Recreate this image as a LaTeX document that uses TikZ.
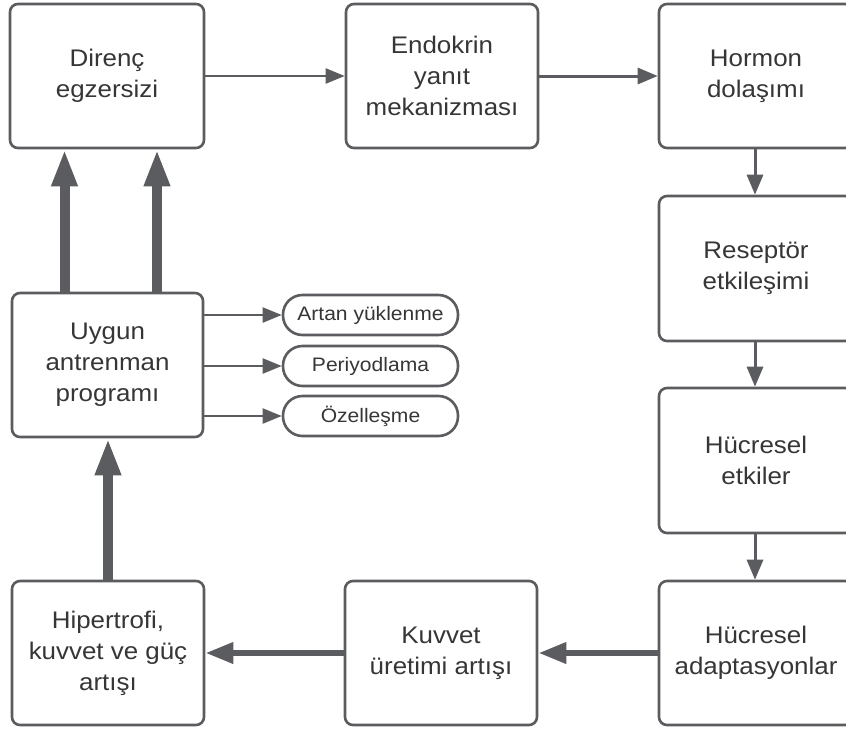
\documentclass[tikz,border=0pt]{standalone}
\usepackage{fontspec}
\setmainfont{Liberation Sans}[FakeStretch=1.08]
\usetikzlibrary{arrows.meta}
\definecolor{lc}{HTML}{5B5C60}
\definecolor{tc}{HTML}{363636}
\tikzset{
  box/.style={draw=lc, line width=2.6pt, rounded corners=8pt, fill=white,
    minimum width=194pt, minimum height=144pt, inner sep=0pt, align=center,
    text=tc, font=\fontsize{24}{31}\selectfont},
  pill/.style={draw=lc, line width=2.6pt, rounded corners=19.5pt, fill=white,
    minimum width=175pt, minimum height=40pt, inner sep=0pt, align=center,
    text=tc, font=\fontsize{19.5}{23}\selectfont},
  thin/.style={draw=lc, line width=2.2pt, -{Triangle[length=19pt,width=15pt]}, color=lc},
  mid/.style={draw=lc, line width=3pt, -{Triangle[length=20pt,width=16pt]}, color=lc},
  fat/.style={draw=lc, line width=10pt, -{Triangle[length=37pt,width=24pt]}, color=lc},
  wide/.style={draw=lc, line width=6.5pt, -{Triangle[length=28pt,width=20pt]}, color=lc},
}
\begin{document}
\begin{tikzpicture}[x=1pt,y=-1pt]
\useasboundingbox[fill=white] (0,0) rectangle (846,729);
% top row
\node[box] (dir) at (107,76) {Direnç\\egzersizi};
\node[box, minimum width=192pt] (endo) at (442,76) {Endokrin\\yanıt\\mekanizması};
\node[box] (horm) at (756,76) {Hormon\\dolaşımı};
% right column
\node[box, minimum height=145pt] (res) at (756,268.5) {Reseptör\\etkileşimi};
\node[box, minimum height=145pt] (hetk) at (756,460.5) {Hücresel\\etkiler};
\node[box] (hadap) at (756,653) {Hücresel\\adaptasyonlar};
% bottom row
\node[box, minimum width=192pt] (kuv) at (441,653) {Kuvvet\\üretimi artışı};
\node[box, minimum width=192pt] (hip) at (108,653) {Hipertrofi,\\kuvvet ve güç\\artışı};
% middle left
\node[box, minimum width=191pt] (uyg) at (107.5,365) {Uygun\\antrenman\\programı};
\node[pill] (p1) at (370.5,315) {Artan yüklenme};
\node[pill] (p2) at (370.5,366) {Periyodlama};
\node[pill] (p3) at (370.5,416) {Özelleşme};
% connectors
\draw[thin] (dir.east) -- (endo.west);
\draw[mid] (endo.east) -- (horm.west);
\draw[mid] ([xshift=-1pt]horm.south) -- ([xshift=-1pt]res.north);
\draw[mid] ([xshift=-1pt]res.south) -- ([xshift=-1pt]hetk.north);
\draw[mid] ([xshift=-1pt]hetk.south) -- ([xshift=-1pt]hadap.north);
\draw[wide] (hadap.west) -- (kuv.east);
\draw[wide] (kuv.west) -- (hip.east);
\draw[fat] (hip.north) -- (hip.north |- uyg.south);
\draw[fat] ([xshift=-43pt]uyg.north) -- ([xshift=-43pt]uyg.north |- dir.south);
\draw[fat] ([xshift=49.5pt]uyg.north) -- ([xshift=49.5pt]uyg.north |- dir.south);
\draw[thin] (uyg.east |- p1.west) -- (p1.west);
\draw[thin] (uyg.east |- p2.west) -- (p2.west);
\draw[thin] (uyg.east |- p3.west) -- (p3.west);
\end{tikzpicture}
\end{document}
